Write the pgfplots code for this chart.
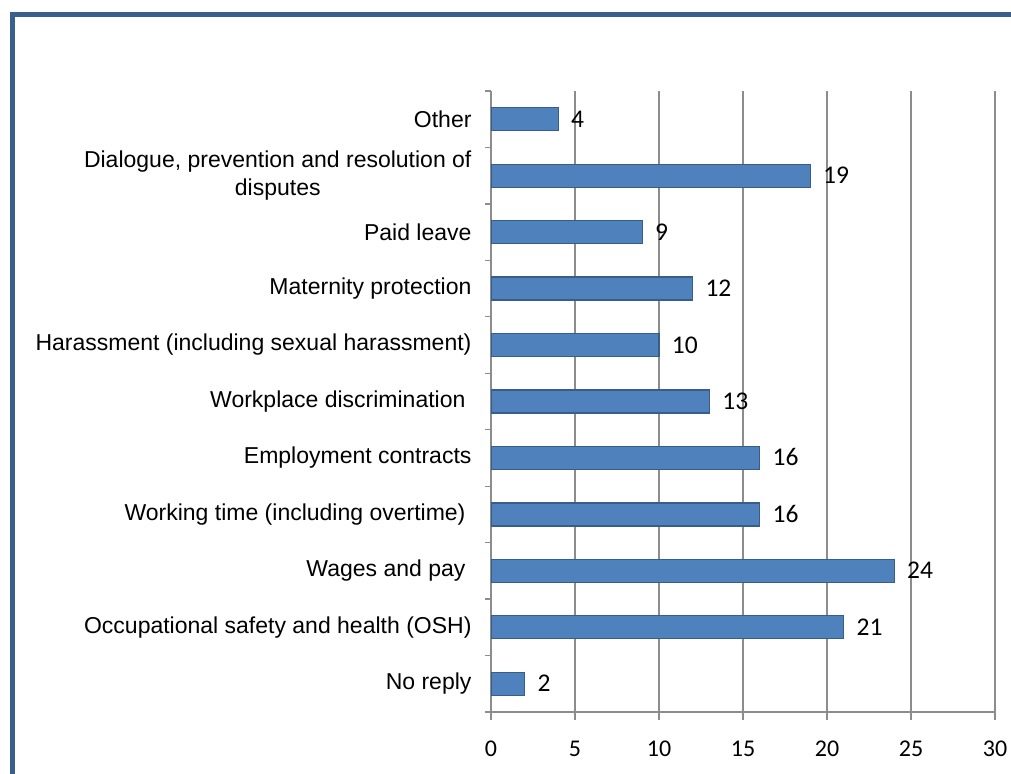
\documentclass[border=0pt]{standalone}
\usepackage{fontspec}
\setmainfont{Liberation Sans}
\newfontfamily\carlito{Carlito}
\usepackage{pgfplots}
\pgfplotsset{compat=1.18}
\definecolor{barfill}{RGB}{79,129,189}
\definecolor{barline}{RGB}{56,93,138}
\definecolor{gridc}{RGB}{140,140,140}
\definecolor{framec}{RGB}{58,95,140}
\begin{document}
\begin{tikzpicture}[x=1pt,y=1pt]
\useasboundingbox (0,0) rectangle (1011,773);
\fill[white] (0,0) rectangle (1011,773);
\draw[framec, line width=5pt, line join=miter] (12,-5) -- (12,758) -- (1016,758);
\begin{axis}[
  at={(491pt,61pt)}, anchor=south west,
  scale only axis, width=504pt, height=621pt,
  xmin=0, xmax=30, ymin=-0.5, ymax=10.5,
  xbar, bar width=23pt,
  xtick={0,5,...,30},
  ytick={0,...,10},
  yticklabels={No reply,Occupational safety and health (OSH),Wages and pay\hspace*{6pt},Working time (including overtime)\hspace*{6pt},Employment contracts,Workplace discrimination\hspace*{6pt},Harassment (including sexual harassment),Maternity protection,Paid leave,{Dialogue, prevention and resolution of\\disputes},Other},
  minor ytick={-0.5,0.5,...,10.5},
  xmajorgrids,
  major grid style={gridc, line width=1.3pt},
  axis x line*=bottom, axis y line*=left,
  axis line style={gridc, line width=1.3pt},
  tick style={gridc, line width=1.3pt},
  major y tick style={draw=none},
  major tick length=8pt, minor tick length=6pt,
  tick align=outside,
  /pgf/number format/assume math mode=true,
  xticklabel style={font=\carlito\fontsize{24}{28}\selectfont, anchor=base, yshift=-36pt},
  yticklabel style={font=\fontsize{23}{28}\selectfont, align=center, xshift=-8pt},
  nodes near coords,
  nodes near coords style={font=\carlito\fontsize{25.5}{28}\selectfont, anchor=west, xshift=9pt, text=black, text height=16pt, text depth=0pt},
]
\addplot[fill=barfill, draw=barline, line width=1.2pt] coordinates {
  (2,0) (21,1) (24,2) (16,3) (16,4) (13,5) (10,6) (12,7) (9,8) (19,9) (4,10)
};
\end{axis}
\end{tikzpicture}
\end{document}
